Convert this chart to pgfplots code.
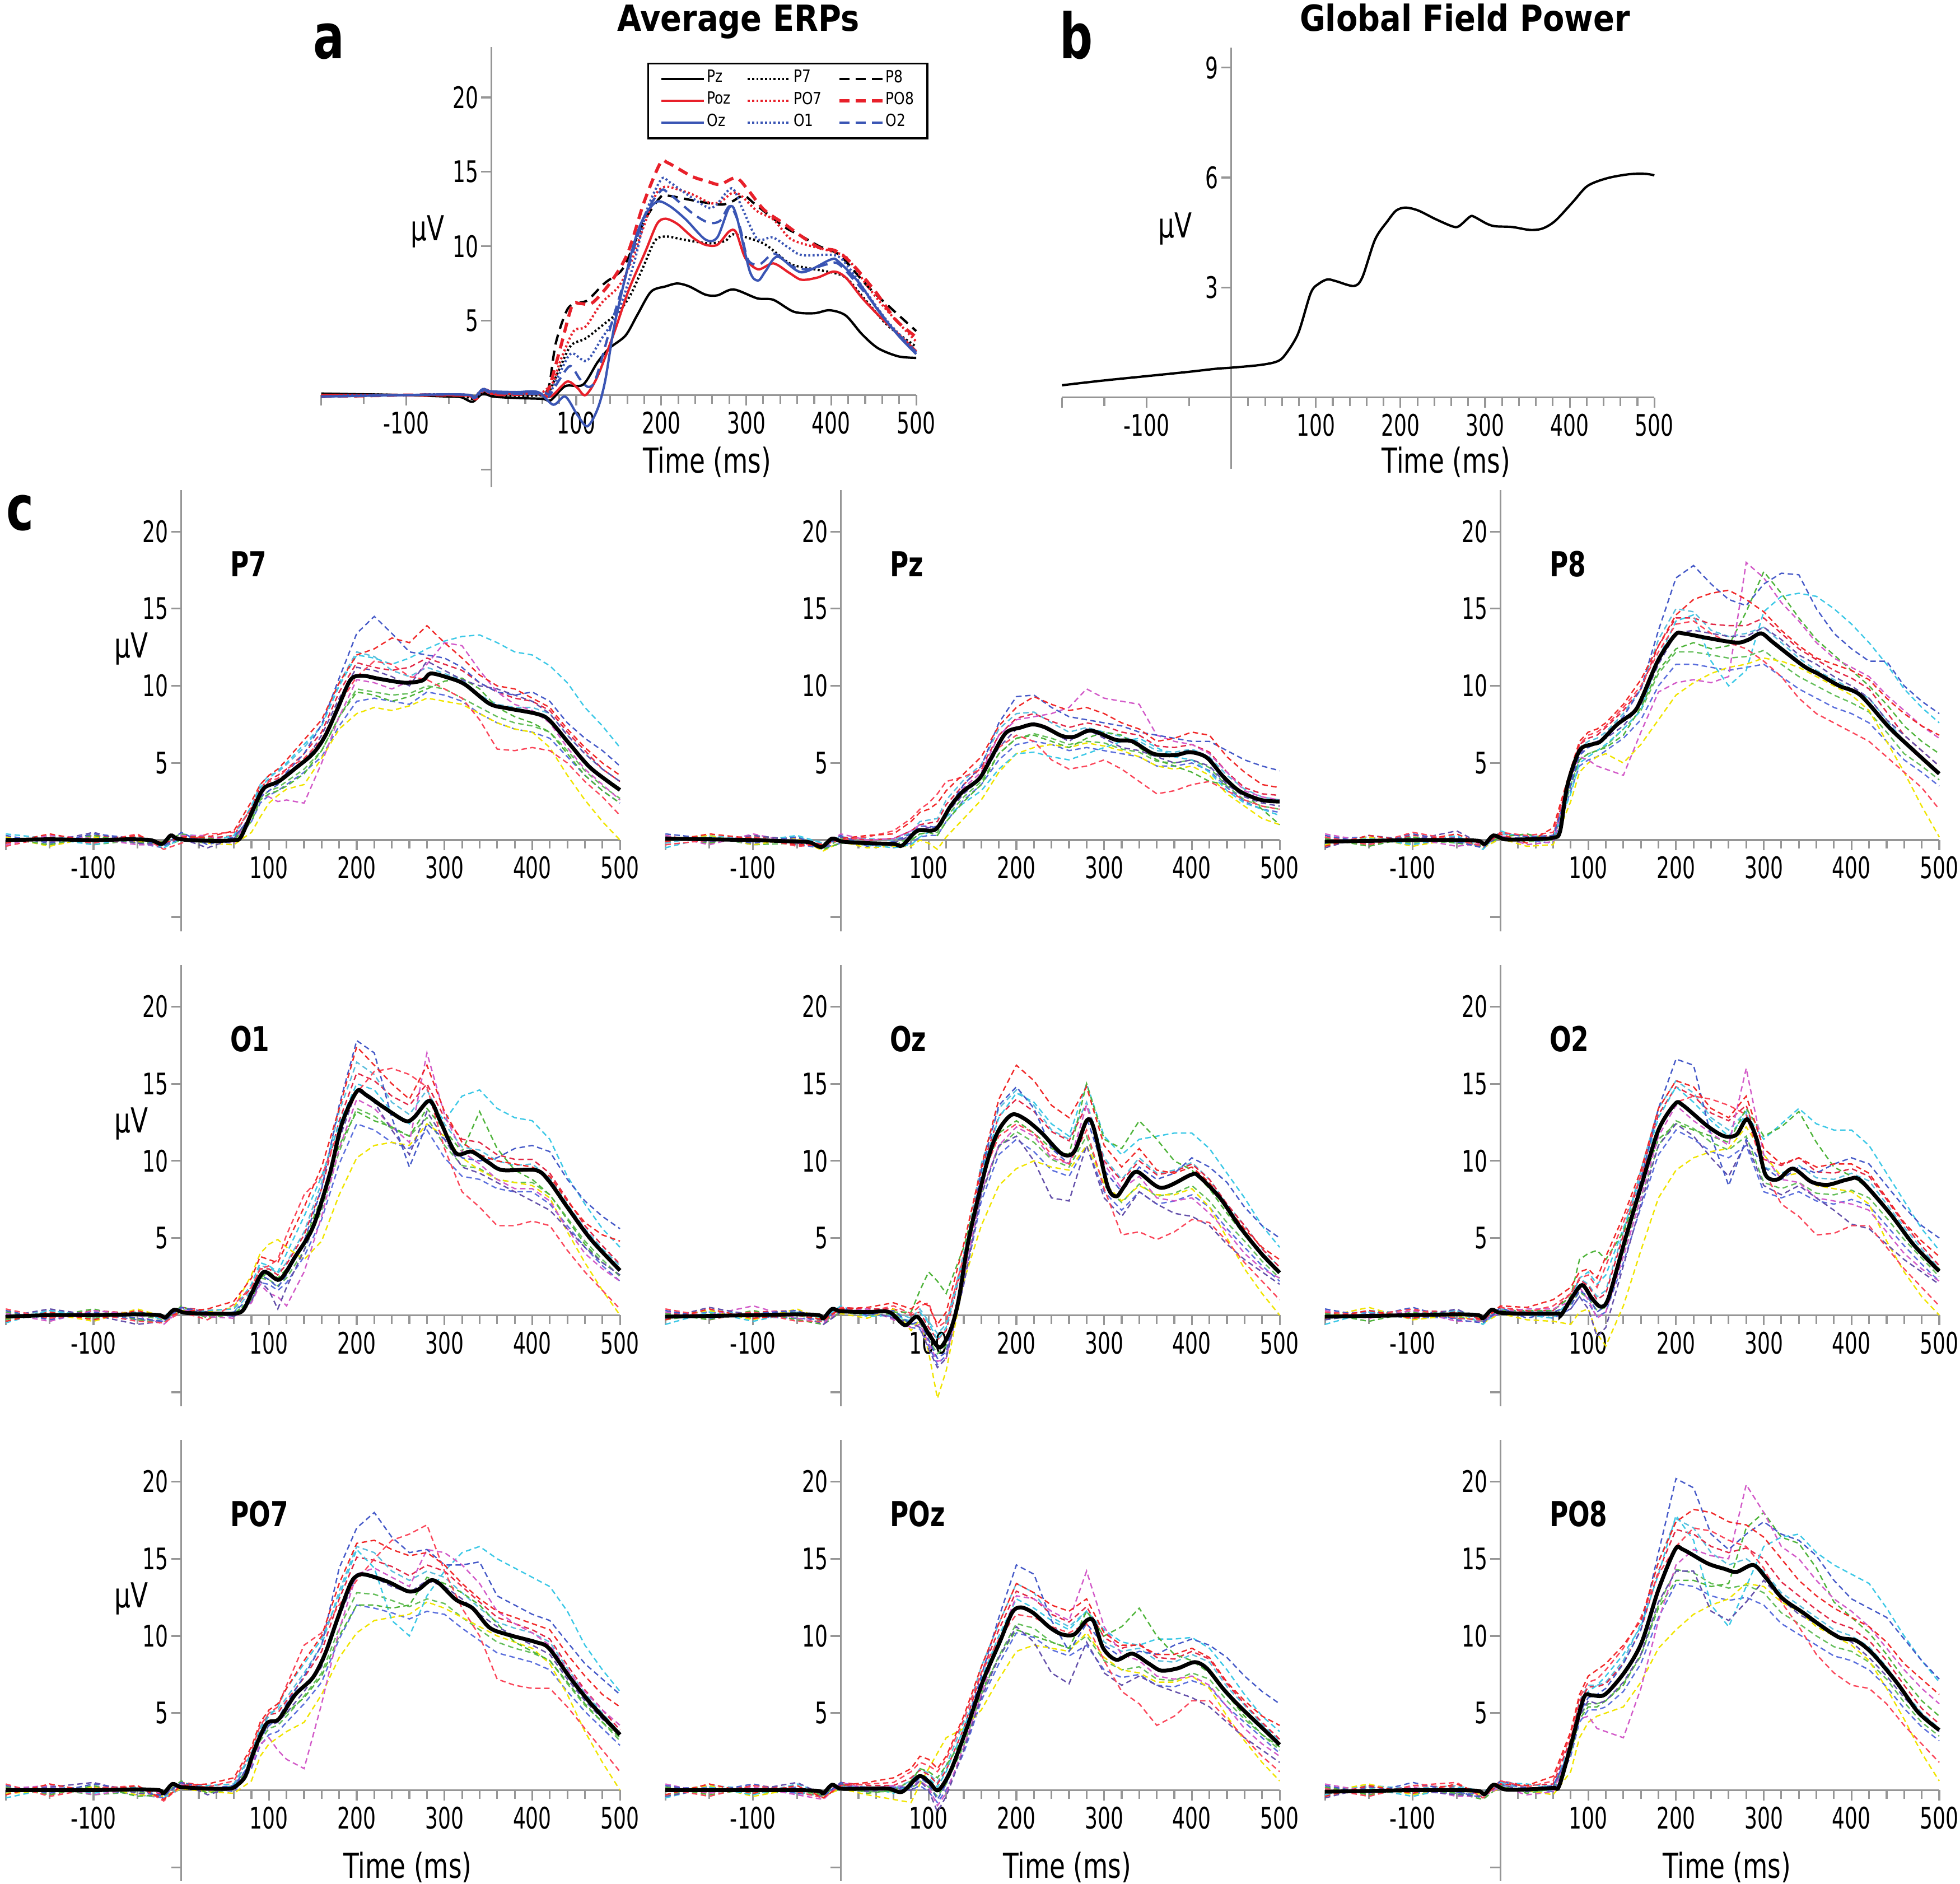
\documentclass[border=0pt]{standalone}
\usepackage{pgfplots}
\pgfplotsset{compat=1.18}
\usepackage{pgfplotstable}
\usepackage{fontspec}
\setmainfont{DejaVu Sans}[FakeStretch=0.74]
\newfontfamily\tickfont{DejaVu Sans}[FakeStretch=0.68]
\newfontfamily\legfont{DejaVu Sans}[FakeStretch=0.83]
\newfontfamily\titlefont{DejaVu Sans}[FakeStretch=0.87]

\definecolor{axgray}{RGB}{150,150,150}
\definecolor{cred}{RGB}{232,32,42}
\definecolor{cblue}{RGB}{58,85,180}
\definecolor{sblue}{RGB}{70,90,200}
\definecolor{sred}{RGB}{240,40,40}
\definecolor{sredb}{RGB}{250,70,90}
\definecolor{sgreen}{RGB}{80,180,60}
\definecolor{scyan}{RGB}{60,200,230}
\definecolor{smag}{RGB}{210,90,200}
\definecolor{syel}{RGB}{240,228,0}
\definecolor{spurp}{RGB}{100,80,170}
\definecolor{sredc}{RGB}{225,40,70}
\definecolor{sgreenb}{RGB}{100,190,90}
\definecolor{sblueb}{RGB}{90,110,220}
\definecolor{scyanb}{RGB}{90,190,220}

% ---------------- mean ERPs (panel a and thick black lines of panel c)
\pgfplotstableread{
t v
-200 0.0
-150 0.05
-100 0.0
-60 0.05
-35 0.0
-22 -0.25
-12 0.3
-5 0.1
10 0.0
40 -0.05
60 0.0
68 0.2
82 2.0
94 3.35
111 3.8
130 4.65
150 5.6
164 6.75
178 8.5
193 10.4
207 10.65
226 10.45
255 10.2
275 10.35
284 10.8
303 10.55
323 10.1
351 8.85
371 8.55
404 8.2
419 7.8
443 6.2
467 4.65
500 3.25
}\mPseven
\pgfplotstableread{
t v
-200 0.1
-150 0.05
-100 0.0
-50 -0.1
-35 -0.15
-22 -0.45
-10 0.1
2 -0.1
30 -0.2
60 -0.25
70 -0.35
87 0.6
108 0.7
125 2.2
139 3.15
158 4.0
172 5.4
188 6.95
205 7.3
219 7.5
233 7.3
252 6.75
266 6.7
285 7.1
313 6.5
332 6.4
356 5.6
380 5.5
398 5.7
417 5.35
436 4.1
455 3.15
479 2.6
500 2.5
}\mPz
\pgfplotstableread{
t v
-200 -0.1
-150 -0.05
-100 0.0
-50 0.0
-25 -0.05
-18 -0.25
-8 0.3
5 0.05
30 0.05
60 0.15
68 0.6
76 3.5
90 5.8
104 6.2
114 6.4
133 7.5
152 8.3
161 9.2
180 11.7
199 13.3
208 13.4
236 13.1
269 12.8
283 13.0
297 13.4
311 12.8
345 11.3
363 10.75
386 10.0
410 9.4
443 7.3
471 5.8
500 4.3
}\mPeight
\pgfplotstableread{
t v
-200 -0.1
-150 0.0
-100 0.0
-50 0.05
-25 0.0
-18 -0.15
-8 0.35
5 0.15
40 0.1
68 0.2
80 1.4
94 2.8
112 2.3
130 3.8
150 5.7
169 9.1
183 12.4
200 14.5
210 14.3
230 13.5
255 12.6
265 12.8
283 13.9
295 12.6
313 10.5
331 10.6
350 9.9
366 9.4
404 9.4
419 8.7
440 7.0
467 4.9
500 2.9
}\mOone
\pgfplotstableread{
t v
-200 -0.1
-150 -0.05
-100 0.0
-50 0.05
-25 0.0
-20 -0.2
-10 0.4
0 0.25
30 0.2
55 0.2
73 -0.65
87 -0.1
101 -1.3
113 -2.1
125 -0.95
134 0.95
146 5.0
167 10.0
180 12.0
195 13.0
210 12.7
229 11.8
252 10.45
266 10.6
280 12.6
288 12.15
304 8.35
314 7.7
323 8.35
337 9.3
365 8.25
399 9.1
408 9.0
432 7.6
455 5.7
479 4.0
500 2.75
}\mOz
\pgfplotstableread{
t v
-200 -0.1
-150 -0.05
-100 0.0
-50 0.05
-25 0.0
-20 -0.2
-10 0.35
0 0.15
30 0.1
65 0.1
69 0.0
81 1.1
93 1.95
104 1.1
114 0.55
123 1.1
142 4.9
161 8.5
180 12.0
199 13.7
208 13.6
236 12.25
255 11.6
269 11.7
281 12.7
292 11.4
302 9.1
316 8.8
333 9.5
354 8.65
373 8.45
396 8.8
410 8.75
443 6.65
471 4.55
500 2.85
}\mOtwo
\pgfplotstableread{
t v
-200 0.0
-150 0.0
-100 0.0
-50 0.05
-25 0.0
-20 -0.2
-10 0.4
0 0.2
30 0.1
55 0.1
63 0.3
73 0.9
82 2.4
97 4.3
111 4.6
130 6.2
150 7.3
164 8.85
178 11.1
193 13.4
202 13.95
212 13.95
236 13.5
258 12.9
270 13.0
284 13.6
294 13.4
313 12.35
332 11.8
351 10.55
371 10.1
404 9.6
419 9.2
443 7.3
467 5.6
500 3.6
}\mPOseven
\pgfplotstableread{
t v
-200 0.0
-150 0.0
-100 0.0
-50 0.0
-25 -0.05
-20 -0.2
-10 0.35
0 0.1
30 0.1
54 0.1
70 -0.1
89 0.9
101 0.5
111 0.0
125 1.25
144 4.1
162 7.1
181 9.6
195 11.5
205 11.85
219 11.5
238 10.55
252 10.1
266 10.1
280 11.0
288 10.95
299 9.2
314 8.45
332 8.85
351 8.2
365 7.75
384 7.9
403 8.3
417 7.9
436 6.55
455 5.4
479 4.1
500 2.95
}\mPOz
\pgfplotstableread{
t v
-200 -0.1
-150 -0.05
-100 0.0
-50 0.0
-25 -0.05
-18 -0.25
-8 0.35
5 0.05
30 0.05
60 0.15
67 0.3
81 3.1
95 6.0
104 6.15
119 6.2
142 7.7
161 9.6
180 13.0
199 15.6
208 15.6
236 14.7
255 14.35
269 14.15
288 14.6
302 13.8
321 12.45
345 11.5
363 10.75
386 9.9
405 9.7
424 8.85
452 6.95
476 5.05
500 3.9
}\mPOeight
% ---------------- global field power
\pgfplotstableread{
t v
-200 0.33
-155 0.45
-104 0.57
-53 0.69
-18 0.78
0 0.81
33 0.88
53 0.97
63 1.14
79 1.74
94 2.85
104 3.11
114 3.22
124 3.17
145 3.04
155 3.28
170 4.31
185 4.82
195 5.10
206 5.18
221 5.10
241 4.87
261 4.67
269 4.67
282 4.93
287 4.93
302 4.74
312 4.67
332 4.65
353 4.57
368 4.61
383 4.82
404 5.34
421 5.77
444 5.98
470 6.09
490 6.10
500 6.06
}\gfp
% ---------------- single-subject traces
\pgfplotstableread{
t a b c d e f g h i j k l
-200 0.3 -0.2 0.1 0.4 -0.3 0.2 -0.4 0.1 0.2 -0.2 0.1 -0.1
-150 -0.2 0.4 -0.3 0.1 0.3 -0.4 0.2 -0.1 -0.1 0.2 -0.3 0.3
-100 0.4 -0.1 0.3 -0.3 0.1 0.2 -0.2 0.5 0.3 -0.3 0.2 -0.1
-50 0.1 0.3 -0.2 0.2 -0.3 -0.1 0.4 -0.2 0.1 0.0 -0.2 0.2
-20 -0.4 -0.2 -0.1 -0.5 -0.3 -0.2 -0.6 -0.3 -0.3 -0.4 -0.5 -0.2
0 0.5 0.2 0.4 0.1 0.3 0.2 -0.2 0.1 0.3 0.0 0.2 0.4
30 -0.3 0.2 0.1 -0.1 0.3 -0.2 0.4 -0.5 0.1 -0.2 0.0 0.2
60 0.2 0.6 0.0 0.3 -0.2 -0.3 0.5 0.1 0.3 0.1 -0.2 0.2
80 1.5 2.5 1.2 2.2 1.8 0.5 2.0 1.6 2.1 1.4 1.2 2.2
90 2.8 3.6 2.6 3.4 3.0 1.5 3.2 2.9 3.4 2.7 2.4 3.6
100 3.2 4.2 3.0 4.0 2.8 2.4 3.8 3.6 3.9 3.2 2.9 4.2
110 3.6 4.6 3.2 4.5 2.5 2.9 4.0 3.9 4.2 3.4 3.2 4.4
120 4.4 5.2 3.5 5.0 2.6 3.3 4.6 4.3 4.6 3.8 3.6 4.9
140 5.6 6.5 4.3 6.2 2.4 3.6 5.3 5.0 5.6 4.6 4.4 6.0
160 7.5 7.8 5.8 7.4 5.0 5.3 6.5 6.8 7.0 5.8 5.4 7.4
180 10.5 10.2 8.0 10.0 8.0 7.2 8.8 9.2 9.6 8.0 7.4 10.2
200 13.4 12.0 9.6 12.0 10.4 8.2 10.6 11.2 11.5 9.8 9.0 12.2
220 14.5 12.4 9.4 11.8 10.2 8.6 11.6 11.0 11.2 9.6 9.2 11.9
240 13.4 13.1 9.0 11.4 9.8 8.4 11.4 10.6 11.0 9.4 9.0 11.0
260 12.2 12.8 9.3 11.8 10.3 8.7 10.6 10.0 11.2 9.5 8.8 10.6
280 12.0 13.9 9.8 12.4 11.4 9.2 10.4 11.6 11.8 10.0 9.6 11.2
300 11.8 12.8 10.3 12.9 12.8 9.0 9.8 11.0 11.4 9.8 9.4 10.8
320 11.2 11.8 10.5 13.2 12.6 8.8 9.2 10.4 11.0 9.2 9.0 10.4
340 10.2 10.7 9.8 13.3 11.0 8.2 7.8 10.0 10.2 8.6 8.2 9.4
360 9.6 10.0 8.6 12.8 9.6 7.6 5.9 9.8 9.6 8.0 7.6 8.8
380 9.4 9.8 8.0 12.2 8.8 7.2 5.8 9.4 9.2 7.6 7.2 8.6
400 9.6 9.2 7.6 12.0 8.4 7.0 6.0 9.0 9.0 7.4 7.0 8.6
420 9.0 8.6 7.0 11.3 7.6 6.0 5.8 8.2 8.4 7.0 6.6 8.2
440 7.6 7.2 5.6 10.2 6.0 4.2 5.0 6.8 7.0 5.8 5.4 6.8
460 6.6 6.0 4.2 8.6 4.6 2.6 3.8 5.6 5.8 4.5 4.2 5.6
480 5.8 5.0 3.2 7.4 3.6 1.2 2.8 4.6 4.6 3.5 3.2 4.6
500 4.8 4.2 2.4 6.0 2.6 0.0 1.6 3.8 3.8 2.7 2.4 3.8
}\sPseven
\pgfplotstableread{
t a b c d e f g h i j k l
-200 0.4 -0.1 0.2 -0.5 0.3 0.1 -0.3 0.2 0.3 -0.1 0.2 -0.2
-150 0.1 0.4 -0.2 0.2 -0.3 0.3 0.0 -0.1 -0.2 0.2 -0.1 0.3
-100 -0.2 0.1 0.3 -0.1 0.4 -0.3 0.2 0.3 0.2 -0.3 0.1 0.0
-50 0.2 -0.3 0.0 0.3 -0.2 0.1 -0.4 0.0 0.1 -0.2 -0.3 0.2
-20 -0.5 -0.3 -0.6 -0.2 -0.4 -0.7 -0.3 -0.5 -0.3 -0.6 -0.5 -0.2
0 0.3 0.1 -0.2 0.2 0.4 -0.1 0.0 0.2 0.2 0.1 -0.2 0.2
30 -0.4 0.3 -0.1 -0.3 0.0 -0.5 0.2 -0.2 0.0 -0.4 -0.1 0.1
60 -0.1 0.4 -0.3 -0.5 0.1 -0.4 0.6 -0.2 0.1 -0.1 -0.4 0.0
80 0.4 1.2 0.0 -0.3 0.6 -0.4 1.4 0.3 0.6 0.0 -0.2 0.5
90 0.9 1.8 0.4 0.2 1.0 0.0 2.0 0.7 1.0 0.4 0.2 1.2
100 0.9 2.0 0.5 0.5 0.8 -0.2 2.4 0.8 1.1 0.5 0.3 1.3
110 0.8 2.4 0.3 0.9 0.6 -0.6 3.0 0.9 1.2 0.5 0.3 1.4
120 1.9 3.2 1.2 1.5 1.8 0.2 3.8 1.7 2.3 1.5 1.2 2.6
140 3.6 4.3 2.5 2.4 3.4 1.4 4.1 3.0 3.6 2.8 2.6 3.9
160 4.8 5.4 3.6 3.2 4.4 2.6 4.6 4.0 4.7 3.8 3.6 4.9
180 7.6 7.4 5.6 4.6 6.8 4.4 6.0 6.0 6.8 5.6 5.2 7.2
200 9.3 8.6 6.6 5.6 7.8 5.6 6.8 7.2 7.9 6.6 6.2 8.2
220 9.4 9.3 6.8 5.7 8.0 6.0 6.4 7.6 8.2 6.9 6.4 8.3
240 8.6 8.8 6.4 5.4 8.2 6.2 5.2 7.0 7.7 6.6 6.2 7.6
260 8.0 8.4 6.0 5.2 8.6 6.0 4.6 6.4 7.3 6.2 5.8 7.0
280 7.8 8.6 6.6 5.6 9.8 6.3 4.8 7.2 7.6 6.4 6.0 7.3
300 7.6 8.2 7.0 6.0 9.2 6.1 5.2 6.6 7.4 6.3 5.8 7.0
320 7.4 7.6 6.8 6.4 9.0 5.8 4.6 6.0 7.0 5.9 5.6 6.7
340 7.0 7.2 6.0 6.6 8.8 5.4 3.8 5.8 6.8 5.7 5.4 6.4
360 6.8 6.4 5.2 6.0 6.8 4.8 3.0 5.4 6.1 5.1 4.8 5.8
380 6.6 6.6 4.8 5.4 6.4 4.6 3.2 5.0 6.0 5.0 4.8 5.7
400 6.4 7.0 4.4 5.2 6.2 4.8 3.6 5.2 6.2 5.2 5.0 5.9
420 6.4 6.8 3.8 4.4 5.6 4.2 3.8 4.8 5.7 4.7 4.5 5.4
440 5.8 5.4 3.6 3.2 4.4 3.0 3.2 3.6 4.4 3.5 3.4 4.2
460 5.2 4.4 3.0 2.4 3.2 2.2 2.6 2.8 3.4 2.6 2.5 3.3
480 4.8 3.6 2.0 2.0 2.8 1.4 2.2 2.4 3.0 2.2 2.0 2.8
500 4.5 3.4 1.0 1.6 2.6 1.0 2.0 2.2 2.9 2.0 1.8 2.6
}\sPz
\pgfplotstableread{
t a b c d e f g h i j k l
-200 0.3 -0.4 0.1 -0.2 0.4 -0.3 0.2 -0.5 0.2 -0.3 0.1 -0.2
-150 -0.2 0.3 -0.4 0.1 -0.1 0.2 -0.3 0.3 -0.3 0.1 0.2 0.0
-100 0.4 -0.1 0.2 -0.3 0.1 -0.4 0.5 0.0 0.3 -0.2 -0.3 0.2
-50 -0.1 0.4 -0.2 0.3 -0.4 0.1 0.0 0.6 0.1 -0.1 0.2 -0.2
-20 -0.5 -0.3 -0.4 -0.6 -0.2 -0.5 -0.4 -0.3 -0.4 -0.3 -0.5 -0.1
0 0.5 0.4 0.2 0.6 0.3 0.1 0.5 0.2 0.5 0.2 0.1 0.4
30 0.2 -0.2 0.4 0.0 -0.3 -0.4 0.3 0.1 0.2 -0.1 0.0 0.3
60 0.3 0.8 0.0 0.2 -0.1 -0.3 0.5 0.2 0.3 0.0 -0.2 0.1
80 3.6 4.6 3.5 3.0 4.0 2.5 4.4 3.8 4.4 3.6 3.2 4.2
90 5.5 6.4 5.2 5.0 5.4 4.4 6.2 5.6 6.2 5.2 4.8 6.0
100 6.0 7.0 5.6 5.4 5.2 5.0 6.8 6.2 6.6 5.6 5.2 6.4
110 6.3 7.2 5.8 5.8 4.8 5.4 7.0 6.4 6.8 5.8 5.4 6.6
120 6.8 7.6 6.0 6.2 4.6 5.6 7.4 6.6 7.3 6.1 5.8 7.0
140 8.0 8.8 6.8 7.2 4.2 5.0 8.6 7.4 8.4 7.2 6.6 8.2
160 9.8 10.4 8.6 8.4 7.0 6.2 10.0 8.8 9.8 8.4 7.8 9.8
180 13.6 12.6 11.0 11.8 9.6 7.8 12.2 11.4 12.6 10.8 10.0 13.0
200 17.0 14.6 12.4 14.2 10.2 9.4 14.0 13.4 14.4 12.2 11.4 15.0
220 17.8 15.6 12.8 14.6 10.4 10.2 14.2 13.6 14.4 12.2 11.4 14.8
240 16.6 16.0 12.4 11.6 10.2 10.8 13.4 13.4 14.0 12.0 11.2 13.6
260 15.6 16.2 12.6 10.0 10.6 11.2 12.8 13.2 13.9 11.8 11.0 13.2
280 15.2 15.6 14.8 11.0 18.0 11.4 12.4 13.2 13.9 11.9 11.2 13.4
300 16.6 14.8 17.4 14.8 17.0 11.8 11.6 13.8 14.4 12.3 11.4 13.8
320 17.3 13.6 16.0 15.8 15.4 11.6 10.6 13.0 13.4 11.4 10.6 12.8
340 17.2 12.6 14.4 16.0 14.2 11.2 9.2 12.0 12.4 10.6 9.8 11.8
360 15.0 11.8 13.0 15.8 12.8 10.6 8.2 11.4 11.7 10.0 9.2 11.0
380 13.4 11.4 12.0 15.0 11.8 10.0 7.6 10.6 11.0 9.4 8.6 10.4
400 12.4 11.0 11.0 14.0 11.2 9.4 7.0 10.0 10.5 8.9 8.2 9.8
420 11.6 10.4 10.0 12.8 10.6 8.4 6.4 9.2 9.8 8.3 7.6 9.2
440 11.6 9.2 8.8 11.4 9.4 6.4 5.4 7.8 8.3 7.0 6.4 7.8
460 10.0 8.2 7.4 9.8 8.4 4.4 4.4 6.8 6.8 5.6 5.2 6.4
480 9.0 7.4 6.4 8.6 7.4 2.2 3.4 5.8 5.8 4.8 4.4 5.4
500 8.2 6.8 5.6 7.6 6.6 0.2 2.0 4.8 4.8 3.9 3.5 4.4
}\sPeight
\pgfplotstableread{
t a b c d e f g h i j k l
-200 0.3 -0.4 0.2 -0.5 0.1 -0.2 0.4 -0.1 0.2 -0.3 0.1 -0.1
-150 -0.3 0.2 -0.1 0.3 -0.4 0.1 -0.2 0.4 -0.2 0.2 -0.1 0.3
-100 0.2 -0.3 0.4 -0.1 0.3 -0.4 0.1 0.0 0.3 -0.2 0.1 0.0
-50 -0.2 0.3 -0.3 0.2 0.0 0.4 -0.4 -0.6 0.1 0.0 -0.3 0.2
-20 -0.4 -0.2 -0.5 -0.3 -0.6 -0.1 -0.5 -0.4 -0.2 -0.3 -0.4 0.0
0 0.5 0.2 0.6 0.1 0.4 0.3 0.2 0.5 0.5 0.2 0.3 0.4
30 0.0 0.4 -0.2 0.3 -0.1 0.2 -0.3 0.2 0.3 -0.1 0.2 0.0
60 0.2 0.9 0.1 0.4 -0.2 0.5 0.7 -0.1 0.4 0.0 -0.1 0.2
80 1.2 2.4 1.0 2.0 0.8 2.6 1.8 0.9 1.8 1.1 0.9 1.6
90 2.6 3.8 2.4 3.4 2.0 4.0 3.0 2.2 3.0 2.4 2.1 3.2
100 2.3 3.6 2.8 3.2 1.4 4.6 3.2 1.6 3.0 2.3 2.0 3.1
110 1.8 3.4 2.4 2.8 1.2 4.9 3.6 0.4 2.6 1.9 1.6 2.7
120 2.6 4.6 3.0 4.0 0.6 4.4 5.2 1.8 3.3 2.4 2.1 3.4
140 4.8 7.0 4.8 6.4 2.8 3.6 7.8 4.2 5.2 4.2 3.8 5.4
160 8.2 9.6 7.6 9.0 6.4 4.8 9.0 7.0 8.2 6.8 6.2 8.6
180 13.6 13.4 11.0 12.4 10.8 7.8 12.0 11.4 12.6 10.6 9.8 13.2
200 17.8 17.4 13.2 15.0 14.0 10.2 14.4 14.6 15.7 13.4 12.4 16.4
220 17.0 16.2 12.6 14.6 13.4 11.0 15.8 13.8 15.2 12.9 12.0 15.6
240 12.8 15.0 12.2 13.2 12.2 11.2 16.0 12.0 14.2 12.1 11.2 13.8
260 9.6 14.0 11.6 12.4 11.2 11.0 15.6 10.4 13.6 11.6 10.8 13.0
280 12.4 16.2 13.4 14.0 17.0 12.4 14.8 13.2 15.0 12.8 12.0 14.6
300 11.4 13.2 12.0 12.6 13.0 11.6 10.8 11.4 12.8 11.0 10.2 12.4
320 10.2 11.2 10.6 14.2 10.6 10.2 8.0 9.6 11.4 9.7 9.0 10.9
340 10.0 10.4 13.2 14.6 9.8 9.4 7.0 9.2 11.2 9.5 8.8 10.7
360 10.2 10.0 10.8 13.4 8.8 8.8 5.8 8.6 10.4 8.8 8.2 10.0
380 10.8 9.8 9.4 12.8 8.2 8.6 5.8 8.0 10.1 8.6 8.0 9.7
400 11.0 9.6 8.8 12.6 8.2 8.4 6.1 7.4 10.1 8.6 8.0 9.8
420 10.6 9.0 7.8 11.4 7.4 7.6 5.8 6.8 9.2 7.8 7.2 8.9
440 8.8 7.4 6.2 9.0 5.6 5.4 4.2 5.6 7.5 6.3 5.8 7.2
460 7.4 6.0 4.6 7.2 4.0 3.4 2.8 4.4 5.8 4.8 4.4 5.6
480 6.4 5.2 3.4 5.6 3.0 1.6 1.6 3.4 4.5 3.6 3.2 4.3
500 5.6 4.8 2.6 4.4 2.2 0.0 0.4 2.6 3.3 2.5 2.2 3.2
}\sOone
\pgfplotstableread{
t a b c d e f g h i j k l
-200 0.3 -0.3 0.1 -0.6 0.2 -0.1 0.4 -0.2 0.2 -0.3 0.1 -0.2
-150 -0.2 0.4 -0.3 0.2 0.0 0.3 -0.1 0.5 -0.3 0.1 0.2 0.3
-100 0.1 -0.2 0.3 -0.4 0.6 -0.3 0.2 0.0 0.2 -0.2 -0.1 0.1
-50 0.3 0.0 -0.3 0.2 -0.2 0.4 -0.4 0.1 0.3 0.0 -0.2 0.2
-20 -0.4 -0.3 -0.6 -0.2 -0.5 -0.3 -0.4 -0.6 -0.3 -0.4 -0.3 -0.1
0 0.5 0.4 0.2 0.6 0.3 0.1 0.5 0.2 0.5 0.2 0.4 0.3
30 0.0 0.5 0.3 -0.1 0.4 -0.2 0.2 0.3 0.4 0.0 0.1 0.3
60 0.3 0.8 0.2 0.0 -0.3 0.4 0.6 -0.2 0.4 0.1 -0.1 0.2
80 -0.6 0.4 0.2 -0.4 -0.8 -1.0 0.1 -0.5 0.0 -0.6 -0.8 -0.2
90 -0.4 0.9 1.6 0.2 -0.6 -0.3 0.6 -0.8 0.2 -0.5 -0.9 0.4
100 -1.6 0.6 2.8 -0.5 -1.8 -2.4 0.8 -2.2 -0.8 -1.6 -2.0 -0.4
110 -2.8 -0.6 2.2 -1.6 -3.0 -5.4 -0.8 -3.4 -1.6 -2.5 -3.2 -1.2
120 -2.4 0.2 1.4 -0.8 -2.8 -3.6 -0.4 -2.8 -1.0 -2.0 -2.6 -0.6
140 2.8 4.6 4.4 3.6 2.4 2.2 3.8 2.0 3.6 2.4 2.0 4.0
160 9.4 9.6 8.6 9.2 8.0 5.8 8.8 7.8 9.4 7.8 7.4 9.8
180 13.6 14.0 11.8 12.8 11.0 8.4 11.6 11.0 12.9 10.9 10.4 13.4
200 14.8 16.2 12.6 14.4 12.2 9.5 12.4 11.6 14.0 11.9 11.4 14.6
220 13.4 15.2 11.8 13.8 11.6 10.0 11.8 10.0 13.2 11.2 10.6 13.6
240 10.8 13.6 10.8 12.4 10.2 9.6 10.4 7.6 11.9 10.1 9.4 12.0
260 9.8 12.8 10.4 11.6 9.8 9.4 9.8 7.4 11.3 9.6 9.0 11.4
280 12.8 14.8 15.0 15.0 13.6 11.0 12.0 11.0 13.6 11.6 11.0 13.8
300 9.4 11.0 11.4 11.6 9.8 8.6 8.2 7.6 10.0 8.4 8.0 10.2
320 8.0 9.6 10.8 10.4 8.2 7.4 5.2 6.4 8.7 7.3 6.8 8.8
340 9.6 10.8 12.6 11.4 9.0 8.4 5.4 8.0 10.0 8.5 8.0 10.2
360 8.8 9.4 11.4 11.6 7.6 7.8 4.9 7.2 9.1 7.7 7.2 9.2
380 9.2 9.2 10.0 11.8 7.4 7.8 5.4 6.6 9.3 7.9 7.4 9.4
400 10.2 9.6 9.4 11.8 7.6 8.2 6.2 6.4 9.8 8.4 7.8 9.9
420 9.6 8.6 8.2 10.8 6.6 7.0 6.0 5.8 8.8 7.4 7.0 8.8
440 8.6 7.0 6.6 9.2 5.4 5.0 4.8 4.6 7.2 6.0 5.6 7.2
460 7.0 5.6 5.2 7.6 4.0 3.0 3.4 3.6 5.8 4.8 4.4 5.8
480 5.8 4.4 3.8 5.8 3.0 1.4 2.2 2.8 4.3 3.5 3.2 4.3
500 5.0 3.6 2.8 4.4 2.4 0.0 1.0 2.0 3.1 2.4 2.2 3.1
}\sOz
\pgfplotstableread{
t a b c d e f g h i j k l
-200 0.4 -0.2 0.1 -0.6 0.3 -0.1 0.2 -0.3 0.2 -0.3 0.1 -0.2
-150 -0.1 0.3 -0.4 0.2 -0.2 0.5 0.0 0.1 -0.2 0.1 0.2 0.3
-100 0.5 -0.2 0.2 -0.1 0.3 -0.3 0.4 -0.2 0.3 -0.2 -0.1 0.1
-50 -0.3 0.2 0.1 0.3 -0.4 0.0 -0.2 0.4 0.2 -0.1 -0.2 0.3
-20 -0.5 -0.3 -0.2 -0.6 -0.4 -0.5 -0.3 -0.4 -0.3 -0.4 -0.3 -0.1
0 0.5 0.6 0.3 0.4 0.2 0.1 0.5 0.3 0.5 0.2 0.1 0.4
30 -0.2 0.5 0.3 0.0 0.4 -0.3 0.2 0.1 0.3 0.0 0.2 0.2
60 0.2 1.0 0.3 -0.2 0.4 -0.4 0.6 0.0 0.3 0.0 -0.2 0.3
80 0.6 1.8 1.2 1.0 0.9 -0.6 1.4 0.4 1.4 0.7 0.4 1.2
90 1.6 2.8 3.6 2.4 1.8 0.2 2.4 1.2 2.3 1.5 1.2 2.4
100 1.2 3.0 4.0 2.8 1.0 0.4 2.6 0.4 1.9 1.1 0.8 2.0
110 0.2 2.4 4.2 2.0 -0.2 -1.2 1.8 -1.4 1.0 0.3 -0.1 1.2
120 0.6 3.8 3.6 2.6 0.2 -2.0 3.2 -0.8 1.4 0.5 0.2 1.6
140 4.6 6.4 5.4 5.6 3.8 0.6 6.0 3.2 5.2 4.0 3.4 5.4
160 8.8 9.4 8.4 9.0 7.6 4.2 9.0 7.2 9.1 7.6 7.0 9.4
180 13.4 13.4 11.4 12.8 11.6 7.6 12.0 11.0 13.0 11.0 10.4 13.4
200 16.6 15.2 12.4 14.8 13.6 9.4 13.8 12.4 14.8 12.6 12.0 15.2
220 16.2 14.8 12.0 13.8 12.6 10.2 14.2 11.6 14.2 12.1 11.4 14.4
240 11.6 13.4 11.6 12.6 11.8 10.6 14.0 10.2 13.1 11.2 10.6 12.8
260 8.4 12.8 11.2 11.6 11.0 10.8 13.6 9.0 12.6 10.7 10.2 12.0
280 11.4 14.2 13.4 13.0 16.0 12.2 13.0 11.2 13.6 11.6 11.0 13.2
300 9.6 10.8 11.6 11.4 10.4 10.4 9.4 8.4 10.1 8.6 8.0 9.6
320 8.8 9.8 12.2 12.4 8.8 9.0 7.2 7.8 9.7 8.2 7.6 9.2
340 9.6 10.2 13.2 13.4 8.6 9.2 6.4 8.4 10.2 8.6 8.0 9.7
360 9.2 9.6 11.2 12.4 7.6 8.4 5.2 7.6 9.3 7.9 7.4 8.9
380 9.8 9.8 9.6 12.0 7.4 8.2 5.3 6.8 9.2 7.8 7.2 8.8
400 10.2 9.8 9.0 12.0 7.2 8.0 5.8 5.9 9.5 8.1 7.5 9.2
420 9.8 9.2 8.2 11.0 6.8 7.2 5.8 5.6 9.0 7.6 7.1 8.7
440 8.4 7.6 6.8 9.2 5.4 4.8 4.4 4.6 7.5 6.3 5.8 7.2
460 7.0 6.0 5.4 7.4 4.0 2.8 3.0 3.6 5.9 4.9 4.5 5.7
480 5.8 4.8 4.0 5.6 3.0 1.2 1.8 2.8 4.5 3.7 3.3 4.3
500 5.0 3.8 3.0 4.2 2.2 0.0 0.6 2.0 3.2 2.5 2.2 3.0
}\sOtwo
\pgfplotstableread{
t a b c d e f g h i j k l
-200 0.3 -0.3 0.2 -0.5 0.1 -0.2 0.4 -0.1 0.2 -0.2 0.1 -0.1
-150 -0.2 0.4 -0.3 0.1 0.3 -0.1 -0.4 0.2 -0.3 0.1 0.2 0.3
-100 0.4 -0.1 0.3 -0.2 -0.3 0.2 0.1 0.5 0.2 -0.3 0.1 -0.1
-50 0.0 0.3 -0.4 0.2 0.1 -0.3 0.3 -0.2 0.2 -0.1 -0.3 0.2
-20 -0.4 -0.6 -0.3 -0.5 -0.2 -0.4 -0.7 -0.3 -0.3 -0.4 -0.5 -0.1
0 0.5 0.3 0.6 0.2 0.4 0.1 0.3 0.5 0.5 0.2 0.1 0.4
30 0.1 0.4 -0.2 0.3 0.0 -0.1 0.2 -0.3 0.3 -0.1 0.2 0.0
60 0.3 0.8 0.1 0.4 0.0 -0.2 0.6 0.2 0.4 0.0 -0.1 0.3
80 1.8 2.8 1.8 2.4 1.6 0.6 2.6 1.8 2.4 1.7 1.4 2.3
90 3.4 4.4 3.4 4.0 3.0 2.2 4.2 3.4 4.0 3.2 2.9 4.1
100 4.2 5.2 4.4 4.8 3.4 3.0 5.0 4.2 4.9 4.0 3.6 5.0
110 4.6 5.6 4.6 5.4 2.6 3.4 5.4 4.4 5.0 4.2 3.8 5.2
120 5.6 6.6 5.0 6.6 2.0 3.8 6.8 5.0 5.8 4.8 4.4 6.0
140 7.4 8.4 6.0 8.2 1.4 4.4 9.4 6.4 7.3 6.1 5.6 7.6
160 9.4 10.0 7.4 9.8 5.6 6.2 10.2 8.0 9.0 7.6 7.0 9.4
180 14.4 13.4 10.0 12.6 10.4 8.6 12.0 11.2 12.4 10.5 9.8 12.9
200 17.0 16.0 12.0 15.6 14.0 10.2 13.6 14.0 15.1 12.8 12.0 15.8
220 18.0 16.2 12.0 14.4 14.4 11.0 15.0 13.8 14.9 12.7 11.8 15.4
240 16.4 15.6 11.8 11.0 13.8 11.2 16.2 13.2 14.5 12.3 11.5 14.2
260 15.4 15.2 12.0 10.0 13.2 11.4 16.6 12.8 13.9 11.9 11.1 13.6
280 15.6 15.4 13.8 12.6 15.6 12.2 17.2 13.6 14.6 12.4 11.6 14.2
300 14.6 14.6 13.4 14.2 15.4 11.8 14.2 13.2 14.2 12.1 11.4 13.8
320 14.6 13.4 12.8 15.4 14.6 11.2 11.8 12.4 13.2 11.2 10.5 12.8
340 14.8 12.4 12.0 15.8 13.4 10.6 10.0 11.4 12.2 10.4 9.7 11.8
360 12.6 11.6 10.8 15.0 11.6 10.0 7.2 10.6 11.2 9.6 8.9 10.9
380 12.0 11.2 9.6 14.4 10.8 9.6 6.8 10.0 10.8 9.2 8.6 10.5
400 11.4 10.8 9.0 13.8 10.2 9.2 6.6 9.4 10.4 8.9 8.3 10.2
420 11.0 10.4 8.4 13.2 9.4 8.2 6.6 8.8 9.8 8.4 7.8 9.6
440 9.6 8.8 7.0 11.6 7.8 6.2 5.4 7.2 8.1 6.9 6.4 7.9
460 8.2 7.4 5.6 9.4 6.4 3.8 4.0 5.8 6.5 5.5 5.1 6.3
480 7.2 6.2 4.4 7.8 5.2 1.8 2.6 4.6 5.2 4.4 4.0 5.0
500 6.2 5.4 3.4 6.4 4.2 0.0 1.2 3.6 3.9 3.2 2.9 3.7
}\sPOseven
\pgfplotstableread{
t a b c d e f g h i j k l
-200 0.3 -0.3 0.2 -0.5 0.4 -0.1 0.1 -0.4 0.2 -0.3 0.1 -0.1
-150 -0.1 0.4 -0.3 0.2 -0.2 0.3 -0.4 0.1 -0.2 0.1 0.2 0.3
-100 0.4 -0.2 0.1 -0.3 0.2 -0.4 0.3 0.0 0.3 -0.2 -0.1 0.1
-50 -0.2 0.3 0.0 0.4 -0.3 0.1 -0.1 0.5 0.1 -0.1 0.2 -0.2
-20 -0.4 -0.5 -0.3 -0.2 -0.6 -0.4 -0.5 -0.3 -0.3 -0.4 -0.2 -0.1
0 0.5 0.3 0.4 0.2 0.5 0.1 0.3 0.4 0.5 0.1 0.3 0.4
30 0.0 0.5 -0.2 0.2 0.1 -0.3 0.4 -0.1 0.3 -0.1 0.2 0.0
60 0.2 0.8 0.0 -0.2 0.3 -0.6 0.5 0.1 0.3 -0.1 0.2 0.1
80 0.2 1.4 0.6 0.4 0.2 -0.8 1.2 0.0 0.8 0.1 0.0 0.6
90 0.8 2.2 1.4 1.0 0.6 0.4 1.8 0.6 1.3 0.6 0.3 1.4
100 0.4 2.0 1.2 0.8 0.2 1.4 1.6 0.0 1.0 0.2 -0.1 1.1
110 -0.6 1.4 0.8 0.2 -1.0 2.4 1.2 -1.4 0.4 -0.4 -0.8 0.5
120 0.4 2.2 1.6 1.2 -0.2 3.4 2.0 -0.4 1.3 0.4 0.0 1.6
140 3.6 4.8 3.4 4.0 2.8 4.0 4.6 2.6 4.0 2.9 2.4 4.4
160 7.4 8.0 6.4 7.2 6.2 5.2 7.6 6.0 7.6 6.2 5.8 8.0
180 11.2 10.8 8.6 10.0 9.6 7.2 9.8 8.6 10.4 8.7 8.2 10.8
200 14.6 13.4 10.4 12.4 12.6 9.0 11.4 10.6 12.9 10.8 10.2 13.4
220 14.0 12.8 10.0 11.8 12.4 9.4 11.2 9.6 12.4 10.5 9.9 12.8
240 11.0 12.0 9.6 11.0 11.6 9.2 10.6 7.6 11.4 9.6 9.1 11.2
260 9.0 11.6 9.2 10.4 11.0 9.0 10.2 6.9 10.9 9.2 8.7 10.6
280 10.8 12.4 11.6 11.6 14.2 10.2 10.8 9.6 11.9 10.0 9.4 11.6
300 9.4 10.2 10.0 10.4 10.6 8.6 8.4 7.6 9.9 8.4 7.8 9.6
320 8.6 9.4 10.6 9.6 8.8 7.8 6.4 6.8 9.2 7.8 7.3 9.0
340 9.0 9.4 11.8 9.4 8.4 7.6 5.6 7.4 9.5 8.0 7.5 9.2
360 8.8 8.8 10.0 9.8 7.4 7.0 4.2 6.8 8.6 7.2 6.8 8.4
380 9.4 8.8 8.8 9.8 7.2 7.0 4.8 6.4 8.5 7.1 6.7 8.3
400 9.8 9.2 8.4 9.9 7.4 7.4 5.8 6.0 9.0 7.6 7.1 8.8
420 9.4 8.6 7.6 9.2 6.8 6.6 5.8 5.4 8.5 7.2 6.7 8.3
440 8.6 7.0 6.2 7.8 5.4 4.8 4.6 4.4 6.9 5.8 5.4 6.7
460 7.4 5.8 4.8 6.2 4.0 3.2 3.4 3.4 5.6 4.6 4.4 5.5
480 6.4 4.8 3.6 4.8 3.0 1.8 2.2 2.6 4.4 3.6 3.4 4.3
500 5.6 4.2 2.8 3.8 2.2 0.6 1.2 1.8 3.3 2.6 2.4 3.2
}\sPOz
\pgfplotstableread{
t a b c d e f g h i j k l
-200 0.3 -0.4 0.2 -0.3 0.4 -0.1 0.1 -0.5 0.2 -0.3 0.1 -0.1
-150 -0.2 0.3 -0.3 0.1 -0.1 0.4 -0.4 0.2 -0.3 0.1 0.2 0.3
-100 0.5 -0.2 0.1 -0.4 0.2 -0.3 0.3 0.0 0.3 -0.2 -0.1 0.1
-50 -0.1 0.4 -0.2 0.2 -0.4 0.1 0.5 -0.3 0.2 -0.1 -0.2 0.3
-20 -0.5 -0.3 -0.6 -0.2 -0.4 -0.3 -0.5 -0.4 -0.3 -0.4 -0.2 -0.1
0 0.6 0.4 0.3 0.5 0.2 0.1 0.6 0.4 0.6 0.2 0.3 0.5
30 0.1 0.3 -0.2 0.4 -0.3 0.0 0.2 -0.1 0.3 -0.1 0.2 0.0
60 0.3 0.9 0.1 0.2 -0.1 -0.3 0.6 0.2 0.4 0.0 -0.1 0.2
80 2.6 3.8 2.4 2.8 2.8 1.2 3.6 2.6 3.3 2.6 2.2 3.2
90 5.0 6.2 4.6 5.4 4.6 3.4 6.0 4.8 5.7 4.8 4.4 5.8
100 6.0 7.4 5.4 6.4 4.8 4.4 7.0 5.8 6.7 5.6 5.2 6.8
110 6.2 7.8 5.4 6.8 4.0 4.8 7.2 5.6 6.7 5.6 5.2 6.8
120 6.6 8.2 5.8 7.4 3.8 5.0 7.8 5.8 6.9 5.8 5.4 7.0
140 8.2 9.4 6.8 8.8 3.4 5.4 9.2 7.0 8.2 6.9 6.4 8.4
160 10.4 11.0 8.8 10.6 6.6 7.0 11.2 8.8 10.4 8.7 8.2 10.8
180 15.4 14.8 11.8 14.0 11.0 9.2 14.0 12.2 14.2 12.0 11.2 14.8
200 20.2 17.4 13.6 17.8 14.6 10.4 15.8 14.2 16.9 14.3 13.4 17.6
220 19.6 18.2 13.6 16.2 15.6 11.4 17.0 14.2 16.6 14.1 13.2 17.0
240 16.6 18.0 13.2 12.0 15.2 12.0 16.8 11.6 15.8 13.4 12.6 15.4
260 15.6 17.4 13.4 10.6 15.0 12.4 16.2 11.0 15.4 13.1 12.3 14.6
280 16.6 17.2 17.0 13.2 19.8 13.4 15.8 12.2 15.7 13.3 12.5 15.0
300 17.4 16.4 18.0 15.8 18.0 13.2 14.4 13.6 15.0 12.8 12.0 14.2
320 16.6 15.0 16.4 16.4 15.8 12.2 12.2 12.4 13.5 11.5 10.8 12.8
340 16.2 13.6 16.0 16.6 15.0 11.6 10.6 11.4 12.6 10.8 10.1 12.0
360 15.2 12.6 14.4 15.4 13.6 10.6 8.8 10.8 11.7 10.0 9.4 11.2
380 13.6 11.8 12.2 14.6 12.4 10.0 7.6 10.2 10.9 9.3 8.7 10.4
400 12.4 11.2 11.2 14.0 11.6 9.4 6.8 9.6 10.5 9.0 8.4 10.0
420 11.8 10.6 10.2 13.4 10.6 8.4 6.6 8.6 9.7 8.3 7.8 9.3
440 11.2 9.6 8.8 11.8 9.2 6.6 5.6 7.4 8.4 7.2 6.7 8.0
460 9.8 8.2 7.2 10.0 7.8 4.6 4.2 6.0 6.8 5.7 5.3 6.4
480 8.4 7.2 5.8 8.4 6.6 2.4 3.0 4.8 5.3 4.4 4.1 5.0
500 7.2 6.2 4.8 7.0 5.6 0.6 1.8 3.8 4.3 3.5 3.2 4.0
}\sPOeight

\pgfplotsset{
  erpbase/.style={scale only axis, axis lines=middle,
    axis line style={draw=axgray, line width=0.45pt, -},
    tick style={draw=axgray, line width=0.45pt},
    tick align=outside, major tick length=2.6pt, minor tick length=2.2pt,
    xmin=-200, xmax=500,
    xtick={-200,-100,100,200,300,400,500},
    xticklabels={,-100,100,200,300,400,500},
    minor xtick={-150,-50,20,40,60,80,120,140,160,180,220,240,260,280,320,340,360,380,420,440,460,480},
    ticklabel style={font=\tickfont\fontsize{7.6}{8}\selectfont, text=black},
    xticklabel style={yshift=1.9pt},
    yticklabel style={xshift=2.8pt},
    clip=false, anchor=south west},
  cpanel/.style={erpbase, width=157.25pt, height=112.93pt, ymin=-5.9, ymax=22.7,
    ytick={-5,5,10,15,20}, yticklabels={,5,10,15,20}},
  sub/.style={line width=0.35pt, dash pattern=on 1.4pt off 0.9pt},
  meanc/.style={black, line width=1.0pt, smooth},
  meana/.style={line width=0.6pt, smooth},
  dotl/.style={dash pattern=on 0.5pt off 0.6pt},
  dashl/.style={dash pattern=on 2.6pt off 1.6pt},
}
\newcommand\subj[1]{%
\addplot[sub,sgreenb] table[x=t,y=j]{#1};
\addplot[sub,sblueb] table[x=t,y=k]{#1};
\addplot[sub,scyanb] table[x=t,y=l]{#1};
\addplot[sub,sredc] table[x=t,y=i]{#1};
\addplot[sub,syel] table[x=t,y=f]{#1};
\addplot[sub,scyan] table[x=t,y=d]{#1};
\addplot[sub,sgreen] table[x=t,y=c]{#1};
\addplot[sub,smag] table[x=t,y=e]{#1};
\addplot[sub,spurp] table[x=t,y=h]{#1};
\addplot[sub,sblue] table[x=t,y=a]{#1};
\addplot[sub,sredb] table[x=t,y=g]{#1};
\addplot[sub,sred] table[x=t,y=b]{#1};
}
\newcommand\lab[1]{\node[anchor=base west, inner sep=0pt, font=\bfseries\fontsize{8.8}{10}\selectfont] at (axis cs:55,17.1) {#1};}
\newcommand\uv{\node[font=\fontsize{8.8}{10}\selectfont] at (axis cs:-57,12.4) {µV};}
\newcommand\tms{\node[font=\fontsize{8.8}{10}\selectfont] at (axis cs:258,-5.0) {Time (ms)};}

\begin{document}
\begin{tikzpicture}
% ---------- panel a
\begin{axis}[erpbase, at={(82.24pt,-124.74pt)}, width=152.32pt, height=112.74pt,
  ymin=-6.2, ymax=23.4, ytick={-5,5,10,15,20}, yticklabels={,5,10,15,20},
  legend columns=3, legend cell align=left,
  legend image code/.code={\draw[#1] (0pt,0pt) -- (11pt,0pt);},
  legend style={at={(0.548,0.9645)}, anchor=north west, draw=black, line width=0.5pt,
    font=\legfont\fontsize{4.3}{5}\selectfont, inner xsep=3pt, inner ysep=1.2pt,
    nodes={inner sep=0.45pt},
    /tikz/every even column/.append style={column sep=3.6pt}}]
\addplot[meana, black] table[x=t,y=v]{\mPz};
\addlegendentry{Pz}
\addplot[meana, black, dotl] table[x=t,y=v]{\mPseven};
\addlegendentry{P7}
\addplot[meana, black, dashl] table[x=t,y=v]{\mPeight};
\addlegendentry{P8}
\addplot[meana, cred] table[x=t,y=v]{\mPOz};
\addlegendentry{Poz}
\addplot[meana, cred, dotl] table[x=t,y=v]{\mPOseven};
\addlegendentry{PO7}
\addplot[meana, cred, dashl, line width=0.8pt] table[x=t,y=v]{\mPOeight};
\addlegendentry{PO8}
\addplot[meana, cblue] table[x=t,y=v]{\mOz};
\addlegendentry{Oz}
\addplot[meana, cblue, dotl] table[x=t,y=v]{\mOone};
\addlegendentry{O1}
\addplot[meana, cblue, dashl] table[x=t,y=v]{\mOtwo};
\addlegendentry{O2}
\node[font=\fontsize{8.8}{10}\selectfont] at (axis cs:-75,11.0) {µV};
\node[font=\fontsize{8.8}{10}\selectfont] at (axis cs:254,-4.5) {Time (ms)};
\end{axis}
% ---------- panel b
\begin{axis}[erpbase, at={(271.87pt,-120pt)}, width=151.65pt, height=107.84pt,
  ymin=-1.95, ymax=9.55, ytick={3,6,9}, yticklabels={3,6,9}]
\addplot[black, line width=0.6pt, smooth] table[x=t,y=v]{\gfp};
\node[font=\fontsize{8.8}{10}\selectfont] at (axis cs:-66,4.6) {µV};
\node[font=\fontsize{8.8}{10}\selectfont] at (axis cs:254,-1.77) {Time (ms)};
\end{axis}
% ---------- panel c, row 1
\begin{axis}[cpanel, at={(1.47pt,-238.34pt)}]
\subj{\sPseven}
\addplot[meanc] table[x=t,y=v]{\mPseven};
\lab{P7}\uv
\end{axis}
\begin{axis}[cpanel, at={(170.34pt,-238.34pt)}]
\subj{\sPz}
\addplot[meanc] table[x=t,y=v]{\mPz};
\lab{Pz}
\end{axis}
\begin{axis}[cpanel, at={(339.2pt,-238.34pt)}]
\subj{\sPeight}
\addplot[meanc] table[x=t,y=v]{\mPeight};
\lab{P8}
\end{axis}
% ---------- row 2
\begin{axis}[cpanel, at={(1.47pt,-359.94pt)}]
\subj{\sOone}
\addplot[meanc] table[x=t,y=v]{\mOone};
\lab{O1}\uv
\end{axis}
\begin{axis}[cpanel, at={(170.34pt,-359.94pt)}]
\subj{\sOz}
\addplot[meanc] table[x=t,y=v]{\mOz};
\lab{Oz}
\end{axis}
\begin{axis}[cpanel, at={(339.2pt,-359.94pt)}]
\subj{\sOtwo}
\addplot[meanc] table[x=t,y=v]{\mOtwo};
\lab{O2}
\end{axis}
% ---------- row 3
\begin{axis}[cpanel, at={(1.47pt,-481.54pt)}]
\subj{\sPOseven}
\addplot[meanc] table[x=t,y=v]{\mPOseven};
\lab{PO7}\uv\tms
\end{axis}
\begin{axis}[cpanel, at={(170.34pt,-481.54pt)}]
\subj{\sPOz}
\addplot[meanc] table[x=t,y=v]{\mPOz};
\lab{POz}\tms
\end{axis}
\begin{axis}[cpanel, at={(339.2pt,-481.54pt)}]
\subj{\sPOeight}
\addplot[meanc] table[x=t,y=v]{\mPOeight};
\lab{PO8}\tms
\end{axis}
% ---------- titles and panel letters
\node[anchor=base, font=\titlefont\bfseries\fontsize{9.2}{11}\selectfont] at (189pt,-7.9pt) {Average ERPs};
\node[anchor=base, font=\titlefont\bfseries\fontsize{9.2}{11}\selectfont] at (375pt,-7.9pt) {Global Field Power};
\node[anchor=base, font=\bfseries\fontsize{16}{18}\selectfont] at (84.2pt,-15pt) {a};
\node[anchor=base, font=\bfseries\fontsize{16}{18}\selectfont] at (275.5pt,-15pt) {b};
\node[anchor=base, font=\bfseries\fontsize{16}{18}\selectfont] at (5.1pt,-135.7pt) {c};
\pgfresetboundingbox
\path (0pt,0pt) rectangle (501.76pt,-482.24pt);
\end{tikzpicture}
\end{document}
